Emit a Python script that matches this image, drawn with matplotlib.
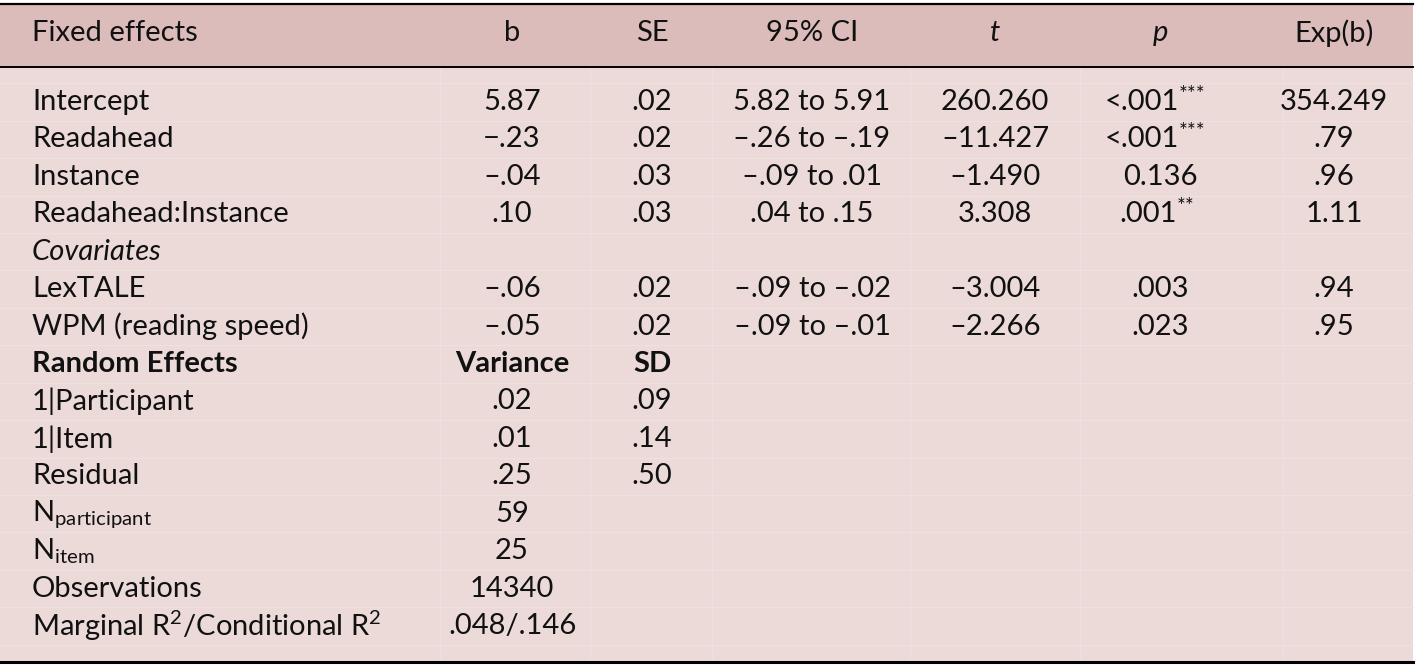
import matplotlib
matplotlib.use("Agg")
import matplotlib.pyplot as plt

FONT = "Lato"
plt.rcParams['font.family'] = [FONT, 'DejaVu Sans']
plt.rcParams['mathtext.fontset'] = 'custom'
plt.rcParams['mathtext.rm'] = FONT
plt.rcParams['mathtext.it'] = FONT + ':italic'
plt.rcParams['mathtext.bf'] = FONT + ':bold'

headers = ["Fixed effects", "b", "SE", "95% CI", "t", "p", "Exp(b)"]
header_style = ["normal", "normal", "normal", "normal", "italic", "italic", "normal"]

row_labels = ["Intercept", "Readahead", "Instance", "Readahead:Instance",
              "Covariates", "LexTALE", "WPM (reading speed)",
              "Random Effects", "1|Participant", "1|Item", "Residual",
              r"N$_{\mathrm{participant}}$", r"N$_{\mathrm{item}}$",
              "Observations", r"Marginal R$^{2}$/Conditional R$^{2}$"]

col_b = ["5.87", "\u2212.23", "\u2013.04", ".10", "", "\u2013.06", "\u2013.05",
         "Variance", ".02", ".01", ".25", "59", "25", "14340", ".048/.146"]
col_se = [".02", ".02", ".03", ".03", "", ".02", ".02",
          "SD", ".09", ".14", ".50", "", "", "", ""]
col_ci = ["5.82 to 5.91", "\u2013.26 to \u2013.19", "\u2013.09 to .01", ".04 to .15", "",
          "\u2013.09 to \u2013.02", "\u2013.09 to \u2013.01"] + [""] * 8
col_t = ["260.260", "\u201311.427", "\u20131.490", "3.308", "",
         "\u20133.004", "\u20132.266"] + [""] * 8
col_p = ["<.001", "<.001", "0.136", ".001", "", ".003", ".023"] + [""] * 8
p_stars = ["***", "***", "", "**", "", "", ""] + [""] * 8
col_exp = ["354.249", ".79", ".96", "1.11", "", ".94", ".95"] + [""] * 8

italic_rows = ["Covariates"]
bold_rows = ["Random Effects"]

W, H = 1416, 665
fig = plt.figure(figsize=(W / 100, H / 100), dpi=100)
ax = fig.add_axes([0, 0, 1, 1])
ax.set_xlim(0, W)
ax.set_ylim(H, 0)
ax.axis('off')

header_bg = "#dbbcbb"
body_bg = "#ecdad9"
ax.add_patch(plt.Rectangle((0, 4), 1413, 63, color=header_bg, lw=0))
ax.add_patch(plt.Rectangle((0, 67), 1413, 594, color=body_bg, lw=0))

col_x = [32, 512, 652, 812, 995, 1160, 1334]
row_y0, row_dy = 102, 37.43
fs = 21

# faint cell grid
for i in range(len(row_labels) + 1):
    yy = row_y0 - row_dy / 2 + i * row_dy
    ax.plot([0, 1413], [yy, yy], color="#f0e2e1", lw=0.6)
for xb in [440, 590, 712, 910, 1080, 1283]:
    ax.plot([xb, xb], [67, 661], color="#f0e2e1", lw=0.6)

ax.plot([0, 1413], [4, 4], color="black", lw=1.6)
ax.plot([0, 1413], [66.5, 66.5], color="black", lw=1.4)
ax.plot([0, 1413], [661.5, 661.5], color="black", lw=2.2)

for j, h in enumerate(headers):
    ax.text(col_x[j], 33, h, fontsize=fs, style=header_style[j],
            ha='left' if j == 0 else 'center', va='center', color="#111111")

cols = [col_b, col_se, col_ci, col_t, col_p, col_exp]
for i, lab in enumerate(row_labels):
    y = row_y0 + i * row_dy
    st = 'italic' if lab in italic_rows else 'normal'
    wt = 'bold' if lab in bold_rows else 'normal'
    ax.text(col_x[0], y, lab, fontsize=fs, style=st, weight=wt,
            ha='left', va='center', color="#111111")
    for j, col in enumerate(cols):
        if not col[i]:
            continue
        x = col_x[j + 1]
        if j == 4 and p_stars[i]:
            x -= 6 * len(p_stars[i])
        t = ax.text(x, y, col[i], fontsize=fs, weight=wt,
                    ha='center', va='center', color="#111111")
        if j == 4 and p_stars[i]:
            ax.annotate(p_stars[i], xy=(1, 1), xycoords=t, xytext=(0, 3),
                        textcoords='offset points', fontsize=15,
                        ha='left', va='top', color="#111111")

fig.savefig("out.png", dpi=100)
